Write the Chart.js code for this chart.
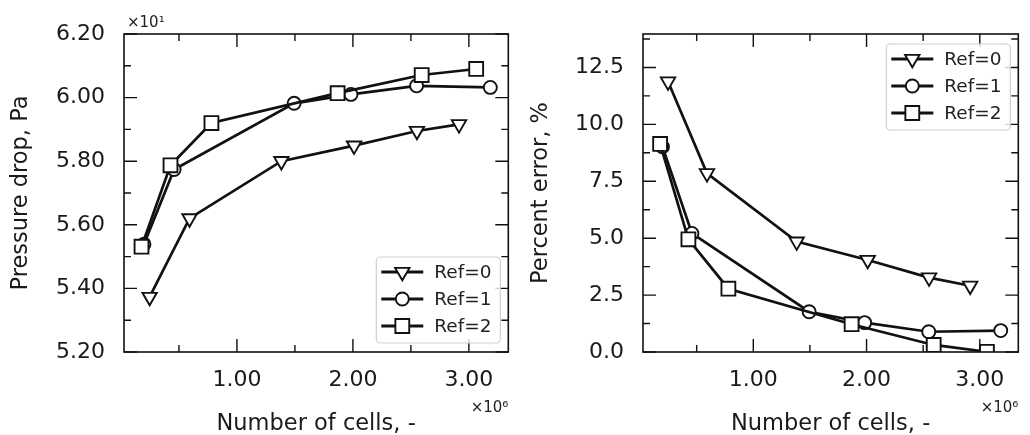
<!DOCTYPE html>
<html>
<head>
<meta charset="utf-8">
<script src="https://cdn.jsdelivr.net/npm/chart.js@4.4.1/dist/chart.umd.min.js"></script>
<style>
  html, body { margin:0; padding:0; background:#fff; }
  #wrap { position:relative; width:1030px; height:435px; overflow:hidden; }
  .box { position:absolute; top:0; height:435px; }
  #leftBox { left:0; width:520px; }
  #rightBox { left:520px; width:510px; }
</style>
</head>
<body>
<div id="wrap">
  <div class="box" id="leftBox"><canvas id="dpChart"></canvas></div>
  <div class="box" id="rightBox"><canvas id="errChart"></canvas></div>
</div>
<script>
// Values
const seriesLabels = ['Ref=0', 'Ref=1', 'Ref=2'];

const cellsRef0 = [247000, 591000, 1383000, 2010000, 2552000, 2915000];
const cellsRef1 = [198000, 458000, 1493000, 1983000, 2549000, 3185000];
const cellsRef2 = [177000, 427000, 780000, 1868000, 2593000, 3063000];

// pressure drop in Pa (axis shows them x10^1)
const dropRef0 = [53.73, 56.20, 58.00, 58.49, 58.95, 59.16];
const dropRef1 = [55.39, 57.74, 59.82, 60.10, 60.37, 60.32];
const dropRef2 = [55.31, 57.87, 59.20, 60.14, 60.71, 60.90];

// percent error
const errRef0 = [11.88, 7.85, 4.85, 4.04, 3.27, 2.91];
const errRef1 = [9.02, 5.21, 1.77, 1.29, 0.89, 0.94];
const errRef2 = [9.14, 4.95, 2.78, 1.22, 0.31, 0.01];

// tick positions
const cellTicks = [1e6, 2e6, 3e6];
const cellMinor = [0.5e6, 1.5e6, 2.5e6];
const dropTicks = [52, 54, 56, 58, 60, 62];
const dropMinor = [53, 55, 57, 59, 61];
const errTicks = [0, 2.5, 5, 7.5, 10, 12.5];
const errMinor = [1.25, 3.75, 6.25, 8.75, 11.25, 13.75];

const INK = '#111';
const FONT = "'DejaVu Sans', sans-serif";

// marker look per series (matplotlib v, o, s)
const markers = [
  { pointStyle:'triangle', rotation:180, radius:8.3 },
  { pointStyle:'circle', rotation:0, radius:6.5 },
  { pointStyle:'rect', rotation:0, radius:9.8 }
];

function pts(xs, ys){ return xs.map((x, i) => ({ x, y: ys[i] })); }

function makeSets(ys){
  const xs = [cellsRef0, cellsRef1, cellsRef2];
  return ys.map((arr, i) => ({
    label: seriesLabels[i],
    data: pts(xs[i], arr),
    showLine: true,
    borderColor: INK,
    borderWidth: 2.7,
    pointStyle: markers[i].pointStyle,
    pointRotation: markers[i].rotation,
    pointRadius: markers[i].radius,
    pointBorderWidth: 1.9,
    pointBackgroundColor: '#fff',
    pointBorderColor: INK,
    order: 3 - i,       // later series on top, like matplotlib
    clip: 0
  }));
}

// inward ticks on all four sides, the frame, legend and the offset texts
const decor = {
  id: 'decor',
  afterDatasetsDraw(chart, args, o){
    const { ctx, chartArea:a, scales:{ x, y } } = chart;
    const MAJ = 13, MIN = 7;
    ctx.save();
    ctx.strokeStyle = INK;
    ctx.lineWidth = 1.4;
    ctx.beginPath();
    const seg = (px, py, dx, dy) => { ctx.moveTo(px, py); ctx.lineTo(px + dx, py + dy); };
    o.xMajor.forEach(v => { const p = x.getPixelForValue(v); seg(p, a.bottom, 0, -MAJ); seg(p, a.top, 0, MAJ); });
    o.xMinor.forEach(v => { const p = x.getPixelForValue(v); seg(p, a.bottom, 0, -MIN); seg(p, a.top, 0, MIN); });
    o.yMajor.forEach(v => { const p = y.getPixelForValue(v); seg(a.left, p, MAJ, 0); seg(a.right, p, -MAJ, 0); });
    o.yMinor.forEach(v => { const p = y.getPixelForValue(v); seg(a.left, p, MIN, 0); seg(a.right, p, -MIN, 0); });
    ctx.stroke();
    ctx.lineWidth = 1.6;
    ctx.strokeRect(a.left, a.top, a.right - a.left, a.bottom - a.top);
    ctx.restore();
  },
  afterDraw(chart, args, o){
    const { ctx, chartArea:a } = chart;
    ctx.save();
    // offset texts
    ctx.fillStyle = '#222';
    ctx.font = '15px ' + FONT;
    ctx.textBaseline = 'alphabetic';
    if (o.yOffset){ ctx.textAlign = 'left'; ctx.fillText(o.yOffset, a.left + 3, a.top - 7); }
    ctx.textAlign = 'right';
    ctx.fillText('×10⁶', a.right, a.bottom + 60);

    // legend
    const w = 124, h = 86;
    const bx = a.right - 132;
    const by = o.legendAt === 'bottom' ? a.bottom - 9 - h : a.top + 10;
    ctx.beginPath();
    ctx.roundRect(bx, by, w, h, 4);
    ctx.fillStyle = 'rgba(255,255,255,0.8)';
    ctx.fill();
    ctx.strokeStyle = '#cfcfcf';
    ctx.lineWidth = 1.2;
    ctx.stroke();
    chart.data.datasets.forEach((ds, i) => {
      const ry = by + 15 + i * 27;
      ctx.strokeStyle = INK;
      ctx.lineWidth = 3;
      ctx.beginPath();
      ctx.moveTo(bx + 5, ry); ctx.lineTo(bx + 47, ry);
      ctx.stroke();
      ctx.fillStyle = '#fff';
      ctx.lineWidth = ds.pointBorderWidth;
      Chart.helpers.drawPoint(ctx, {
        pointStyle: ds.pointStyle, rotation: ds.pointRotation,
        radius: ds.pointRadius, borderWidth: ds.pointBorderWidth
      }, bx + 26, ry);
      ctx.fillStyle = '#222';
      ctx.font = '18.5px ' + FONT;
      ctx.textAlign = 'left';
      ctx.textBaseline = 'middle';
      ctx.fillText(ds.label, bx + 58, ry + 1);
    });
    ctx.restore();
  }
};

function makeChart(id, opts){
  return new Chart(document.getElementById(id), {
    type: 'scatter',
    data: { datasets: makeSets(opts.series) },
    options: {
      responsive: true,
      maintainAspectRatio: false,
      animation: false,
      events: [],
      layout: { padding: { left:0, right: opts.padRight, top:34, bottom:0 } },
      plugins: {
        legend: { display:false },
        tooltip: { enabled:false },
        decor: {
          xMajor: cellTicks, xMinor: cellMinor,
          yMajor: opts.yTicks, yMinor: opts.yMinor,
          yOffset: opts.yOffset, legendAt: opts.legendAt
        }
      },
      scales: {
        x: {
          type: 'linear', min: 26000, max: 3340000,
          grid: { display:false, drawTicks:false }, border: { display:false },
          afterBuildTicks: s => { s.ticks = cellTicks.map(v => ({ value:v })); },
          afterFit: s => { s.height = 83; },
          ticks: {
            padding: 15, color:'#1a1a1a', font:{ family:FONT, size:22 },
            callback: v => (v / 1e6).toFixed(2)
          },
          title: { display:true, text:'Number of cells, -', color:'#1a1a1a',
                   font:{ family:FONT, size:22.5 }, padding:{ top:0, bottom:-3 } }
        },
        y: {
          type: 'linear', min: opts.yMin, max: opts.yMax,
          grid: { display:false, drawTicks:false }, border: { display:false },
          afterBuildTicks: s => { s.ticks = opts.yTicks.map(v => ({ value:v })); },
          afterFit: s => { s.width = opts.yWidth; },
          ticks: {
            padding: 19, color:'#1a1a1a', font:{ family:FONT, size:22 },
            callback: opts.yFmt
          },
          title: { display:true, text: opts.yTitle, color:'#1a1a1a',
                   font:{ family:FONT, size:22.5 }, padding:{ top:8, bottom:0 } }
        }
      }
    },
    plugins: [decor]
  });
}

makeChart('dpChart', {
  series: [dropRef0, dropRef1, dropRef2],
  yMin: 52, yMax: 62, yTicks: dropTicks, yMinor: dropMinor,
  yFmt: v => (v / 10).toFixed(2),
  yTitle: 'Pressure drop, Pa', yOffset: '×10¹',
  yWidth: 124, padRight: 8, legendAt: 'bottom'
});

makeChart('errChart', {
  series: [errRef0, errRef1, errRef2],
  yMin: 0, yMax: 13.97, yTicks: errTicks, yMinor: errMinor,
  yFmt: v => v.toFixed(1),
  yTitle: 'Percent error, %', yOffset: '',
  yWidth: 123, padRight: 1, legendAt: 'top'
});
</script>
</body>
</html>
